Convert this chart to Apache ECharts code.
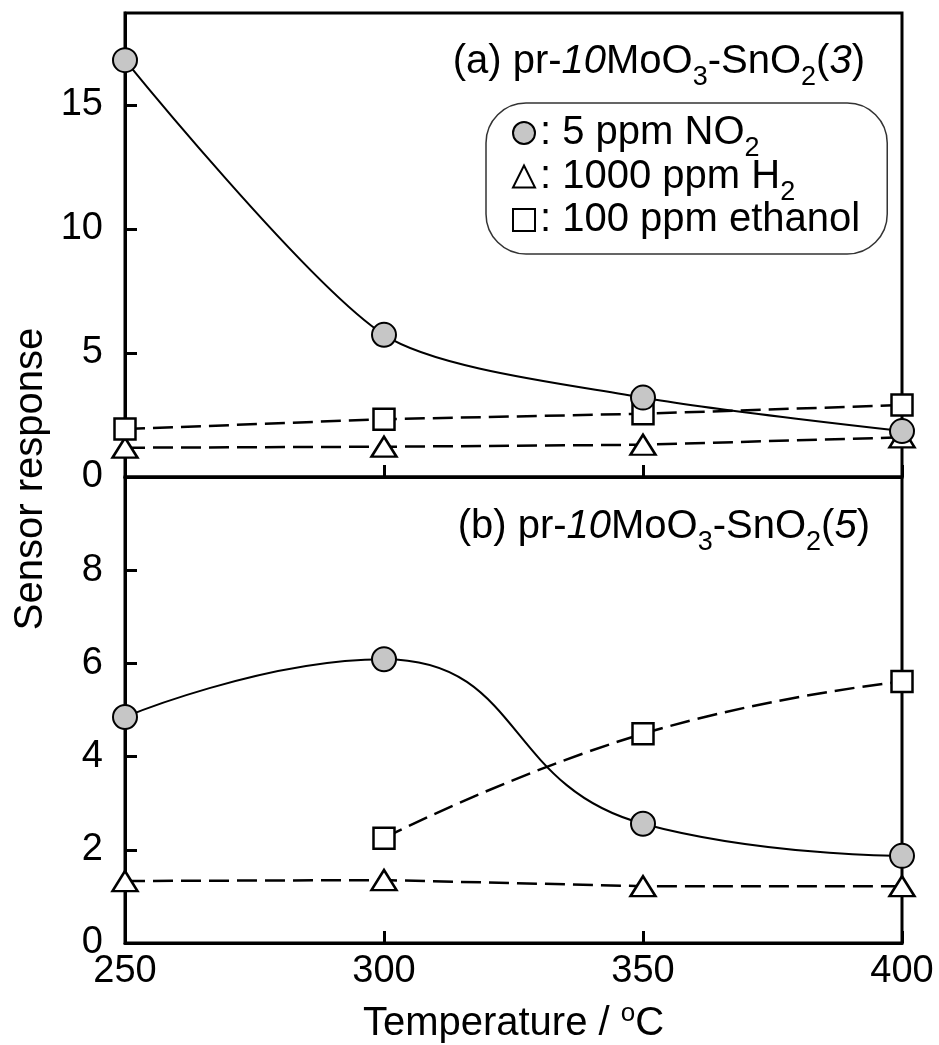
<!DOCTYPE html>
<html>
<head>
<meta charset="utf-8">
<script src="https://cdn.jsdelivr.net/npm/echarts@6/dist/echarts.min.js"></script>
<style>
  html, body { margin: 0; padding: 0; background: #fff; }
  #chart { width: 939px; height: 1045px; }
</style>
</head>
<body>
<div id="chart"></div>
<script>
// Operating temperature (°C)
const temps = [250, 300, 350, 400];

// (a) pr-10MoO3-SnO2(3)
const topNO2 = [16.8, 5.73, 3.2, 1.85];
const topH2 = [1.18, 1.22, 1.3, 1.6];
const topEthanol = [1.93, 2.33, 2.55, 2.9];

// (b) pr-10MoO3-SnO2(5)
const botNO2 = [4.85, 6.09, 2.56, 1.87];
const botH2 = [1.33, 1.35, 1.22, 1.22];
const botEthanol = [null, 2.25, 4.49, 5.61];

// Tick labels
const xTicks = [250, 300, 350, 400];
const topYTicks = [0, 5, 10, 15];
const botYTicks = [0, 2, 4, 6, 8];

const FONT = '"Liberation Sans", Arial, Helvetica, sans-serif';
const INK = '#000';

function pairs(xs, ys) {
  const out = [];
  xs.forEach((x, i) => { if (ys[i] !== null && ys[i] !== undefined) out.push([x, ys[i]]); });
  return out;
}

// Rich-text pieces: lowered subscripts, italic numerals, raised "o" for degrees
const subStyle = (h) => ({ fontSize: 27, fontFamily: FONT, color: INK, lineHeight: h, height: h, verticalAlign: 'bottom' });
const supStyle = { fontSize: 26, fontFamily: FONT, color: INK, lineHeight: 28, height: 28, verticalAlign: 'top' };
const italicStyle = { fontSize: 40, fontFamily: FONT, color: INK, fontStyle: 'italic', lineHeight: 48 };

const names = { no2: '5 ppm NO2', h2: '1000 ppm H2', eth: '100 ppm ethanol' };
const legendText = {
  '5 ppm NO2': ': 5 ppm NO{sub|2}',
  '1000 ppm H2': ': 1000 ppm H{sub|2}',
  '100 ppm ethanol': ': 100 ppm ethanol'
};

const circleStyle = { color: '#c6c6c6', borderColor: INK, borderWidth: 2 };
const openStyle = { color: '#fff', borderColor: INK, borderWidth: 2.5 };
const dashed = { color: INK, width: 2.5, type: [20, 8] };
const solid = { color: INK, width: 2 };

// Curve tension of the NO2 trend line in each panel
const no2Smooth = [0.25, 0.5];

function makeSeries(panel, key, xs, ys) {
  const base = {
    type: 'line',
    xAxisIndex: panel, yAxisIndex: panel,
    data: pairs(xs, ys),
    clip: false,
    z: 3
  };
  if (key === 'no2') {
    return Object.assign(base, {
      name: names.no2, symbol: 'circle', symbolSize: 24, smooth: no2Smooth[panel],
      itemStyle: circleStyle, lineStyle: solid, z: 5
    });
  }
  if (key === 'h2') {
    return Object.assign(base, {
      name: names.h2, symbol: 'triangle', symbolSize: [25, 20],
      itemStyle: openStyle, lineStyle: dashed
    });
  }
  return Object.assign(base, {
    name: names.eth, symbol: 'rect', symbolSize: 21,
    smooth: panel === 1 ? 0.5 : false,
    itemStyle: openStyle, lineStyle: dashed, z: 4
  });
}

const axisLineStyle = { lineStyle: { color: INK, width: 3 } };
const tickStyle = { inside: true, length: 12, lineStyle: { color: INK, width: 3 } };
const gridBase = { left: 125, right: 37, show: true, borderColor: INK, borderWidth: 3,
  backgroundColor: 'transparent', outerBoundsMode: 'none', containLabel: false };

const chart = echarts.init(document.getElementById('chart'), null, { renderer: 'canvas' });

chart.setOption({
  animation: false,
  backgroundColor: '#fff',
  textStyle: { fontFamily: FONT, color: INK },
  grid: [
    Object.assign({ top: 13, height: 464 }, gridBase),
    Object.assign({ top: 477, height: 466 }, gridBase)
  ],
  title: [
    {
      text: '(a) pr-{i|10}MoO{sub|3}-SnO{sub|2}({i|3})',
      right: 74, top: 38, padding: 0,
      textStyle: { fontSize: 40, fontWeight: 'normal', fontFamily: FONT, color: INK, lineHeight: 48,
        rich: { i: italicStyle, sub: subStyle(17) } }
    },
    {
      text: '(b) pr-{i|10}MoO{sub|3}-SnO{sub|2}({i|5})',
      right: 69, top: 503, padding: 0,
      textStyle: { fontSize: 40, fontWeight: 'normal', fontFamily: FONT, color: INK, lineHeight: 48,
        rich: { i: italicStyle, sub: subStyle(17) } }
    }
  ],
  legend: {
    orient: 'vertical',
    left: 486, top: 103,
    padding: [10, 27, 14, 26],
    itemGap: -6,
    itemWidth: 22, itemHeight: 22,
    align: 'left',
    selectedMode: false,
    borderColor: '#333', borderWidth: 1.5, borderRadius: 40,
    data: [
      { name: names.no2, icon: 'circle' },
      { name: names.h2, icon: 'triangle' },
      { name: names.eth, icon: 'rect' }
    ],
    formatter: (n) => legendText[n] || n,
    textStyle: { fontSize: 40, fontFamily: FONT, color: INK, lineHeight: 40,
      rich: { sub: subStyle(8) } }
  },
  xAxis: [
    {
      gridIndex: 0, type: 'value', min: 250, max: 400, interval: 50,
      axisLine: axisLineStyle, axisTick: tickStyle,
      axisLabel: { show: false }, splitLine: { show: false }
    },
    {
      gridIndex: 1, type: 'value', min: 250, max: 400, interval: 50,
      axisLine: axisLineStyle, axisTick: tickStyle,
      axisLabel: { fontSize: 38, color: INK, fontFamily: FONT, margin: 10,
        customValues: xTicks },
      splitLine: { show: false },
      name: 'Temperature / {sup|o}C',
      nameLocation: 'middle', nameGap: 57,
      nameTextStyle: { fontSize: 40, color: INK, fontFamily: FONT, lineHeight: 48,
        rich: { sup: supStyle } }
    }
  ],
  yAxis: [
    {
      gridIndex: 0, type: 'value', min: 0, max: 18.7,
      axisLine: axisLineStyle,
      axisTick: Object.assign({ customValues: topYTicks }, tickStyle),
      axisLabel: { fontSize: 38, color: INK, fontFamily: FONT, margin: 22, customValues: topYTicks },
      splitLine: { show: false }
    },
    {
      gridIndex: 1, type: 'value', min: 0, max: 10,
      axisLine: axisLineStyle,
      axisTick: Object.assign({ customValues: botYTicks }, tickStyle),
      axisLabel: { fontSize: 38, color: INK, fontFamily: FONT, margin: 22, customValues: botYTicks },
      splitLine: { show: false }
    }
  ],
  graphic: [
    {
      type: 'text',
      x: 31, y: 479,
      rotation: Math.PI / 2,
      style: { text: 'Sensor response', fontSize: 40, fontFamily: FONT, fill: INK,
        align: 'center', verticalAlign: 'middle' }
    }
  ],
  series: [
    makeSeries(0, 'h2', temps, topH2),
    makeSeries(0, 'eth', temps, topEthanol),
    makeSeries(0, 'no2', temps, topNO2),
    makeSeries(1, 'h2', temps, botH2),
    makeSeries(1, 'eth', temps, botEthanol),
    makeSeries(1, 'no2', temps, botNO2)
  ]
});
</script>
</body>
</html>
